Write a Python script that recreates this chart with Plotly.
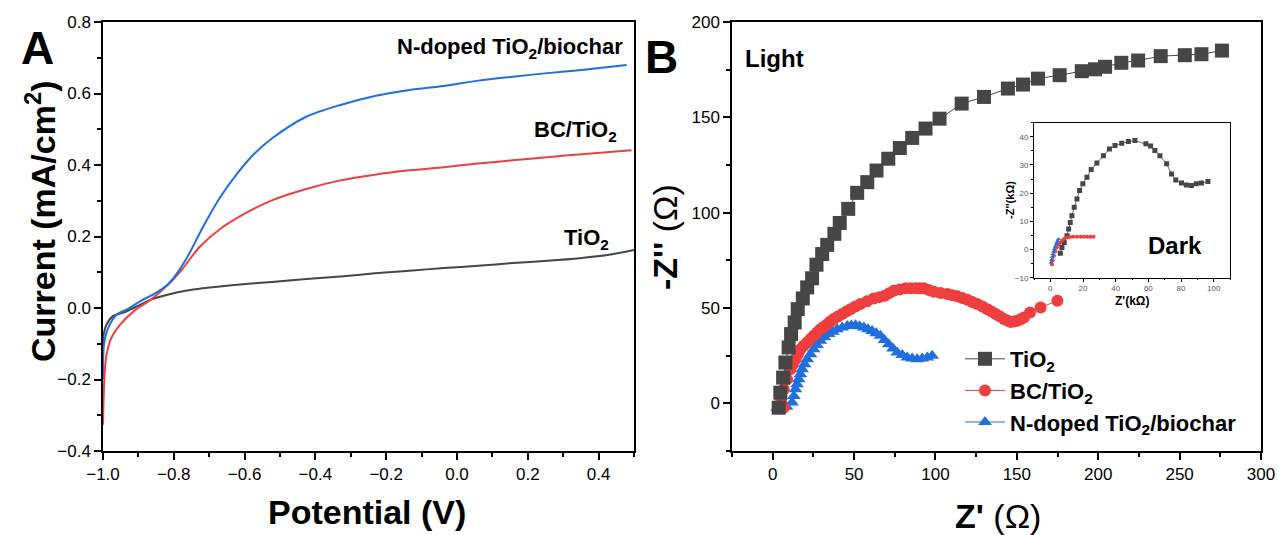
import plotly.graph_objects as go

# ---------------- Panel A : LSV curves ----------------
pot_tio2 = [-1.0, -0.998, -0.99, -0.971, -0.942, -0.903, -0.864, -0.815, -0.767, -0.718, -0.621, -0.523,
            -0.426, -0.329, -0.232, -0.134, -0.037, 0.060, 0.158, 0.255, 0.352, 0.43, 0.5]
cur_tio2 = [-0.12, -0.073, -0.046, -0.022, -0.013, 0.005, 0.024, 0.038, 0.048, 0.055, 0.065, 0.073,
            0.081, 0.088, 0.097, 0.104, 0.112, 0.118, 0.126, 0.132, 0.140, 0.149, 0.162]

pot_bc = [-1.0, -0.998, -0.995, -0.99, -0.976, -0.951, -0.912, -0.864, -0.815, -0.776, -0.728, -0.669,
          -0.601, -0.523, -0.426, -0.329, -0.232, -0.134, -0.037, 0.060, 0.158, 0.255, 0.352, 0.493]
cur_bc = [-0.327, -0.243, -0.177, -0.13, -0.083, -0.046, -0.008, 0.024, 0.066, 0.109, 0.170, 0.221,
          0.263, 0.301, 0.333, 0.357, 0.373, 0.385, 0.394, 0.404, 0.413, 0.422, 0.430, 0.441]

pot_nd = [-1.0, -0.997, -0.985, -0.961, -0.932, -0.893, -0.854, -0.815, -0.786, -0.757, -0.718, -0.669,
          -0.621, -0.572, -0.523, -0.426, -0.329, -0.232, -0.134, -0.037, 0.060, 0.158, 0.255, 0.352, 0.479]
cur_nd = [-0.2, -0.10, -0.055, -0.018, -0.004, 0.020, 0.040, 0.068, 0.104, 0.151, 0.226, 0.310,
          0.376, 0.432, 0.474, 0.535, 0.568, 0.593, 0.610, 0.621, 0.636, 0.647, 0.657, 0.666, 0.680]

# ---------------- Panel B : Nyquist (Light) ----------------
zr_tio2 = [3.7, 4.7, 6.4, 7.8, 9.8, 11.3, 13.5, 15.4, 18.5, 21.2, 24.2, 26.9, 30.4, 33.5, 37.9, 41.2,
           46.4, 51.9, 58.1, 63.8, 71.0, 78.1, 85.7, 93.9, 102.5, 116.1, 129.8, 144.5, 153.8, 163.0,
           176.3, 189.9, 198.0, 204.2, 214.2, 224.5, 238.4, 253.2, 263.4, 276.0]
zi_tio2 = [-2.3, 5.6, 13.5, 21.4, 29.3, 36.3, 42.4, 49.4, 55.0, 60.8, 65.6, 72.7, 78.3, 83.1, 88.9, 94.6,
           102.0, 110.4, 116.0, 122.1, 128.3, 133.9, 139.2, 144.1, 149.3, 157.2, 160.7, 165.1, 167.2, 170.3,
           172.1, 174.2, 175.2, 176.5, 178.6, 179.8, 182.1, 182.6, 183.1, 185.0]

zr_bc = [6.8, 5.2, 6.8, 8.8, 10.9, 12.4, 14.0, 15.5, 17.0, 19.0, 21.1, 23.2, 25.2, 27.3, 29.3, 31.4, 33.5,
         35.5, 37.5, 40.1, 42.7, 45.2, 47.8, 50.8, 53.9, 58.0, 62.1, 65.5, 68.9, 71.6, 74.4, 78.0, 81.6,
         84.7, 87.8, 90.3, 92.9, 96.0, 99.0, 103.1, 107.3, 110.3, 113.4, 116.5, 119.6, 122.6, 125.7,
         128.8, 131.9, 134.5, 137.0, 139.6, 142.1, 144.2, 146.2, 148.3, 150.3, 152.4, 154.4, 158.1,
         164.6, 174.9]
zi_bc = [-2.3, 2.1, 7.4, 12.6, 17.9, 20.5, 23.1, 25.8, 28.4, 30.2, 31.9, 33.7, 35.4, 37.2, 38.9, 40.2, 41.5,
         42.9, 44.2, 45.5, 46.8, 48.1, 49.4, 50.8, 52.1, 53.6, 55.0, 55.7, 56.4, 57.8, 59.1, 59.7, 60.3,
         60.3, 60.3, 60.3, 60.3, 59.4, 58.5, 57.9, 57.3, 56.7, 56.1, 55.2, 54.3, 53.2, 52.1,
         50.8, 49.4, 48.1, 46.8, 45.5, 44.2, 43.4, 42.7, 42.9, 43.3, 44.1, 45.0, 47.7,
         50.3, 53.8]

zr_nd = [2.7, 5.5, 8.5, 11.9, 13.0, 14.0, 15.0, 16.0, 17.0, 18.1, 19.6, 21.2, 23.2, 25.2, 27.2, 29.3,
         31.8, 34.4, 37.0, 39.6, 42.7, 45.8, 48.3, 50.9, 53.4, 56.0, 58.5, 61.1, 63.6, 66.2, 68.7,
         71.3, 73.9, 76.5, 79.6, 82.7, 85.7, 88.8, 91.9, 95.0, 98.0]
zi_nd = [-2.3, -2.6, -1.8, 0.4, 3.9, 7.4, 10.0, 12.6, 15.2, 17.9, 20.5, 23.1, 25.8, 28.4, 30.6, 32.8,
         34.6, 36.3, 37.6, 38.9, 39.8, 40.6, 40.8, 41.0, 40.4, 39.8, 38.9, 38.0, 36.7, 35.4, 33.2,
         31.0, 28.8, 26.7, 25.3, 24.0, 23.5, 23.1, 23.5, 24.0, 24.9]

# ---------------- Inset : Nyquist (Dark, kΩ) ----------------
zr_tio2_d = [6.1, 7.1, 8.5, 10.2, 11.2, 12.2, 13.2, 14.6, 16.3, 17.9, 19.9, 22.4, 25.0, 28.5, 32.5, 36.2,
             39.6, 43.7, 47.8, 51.8, 58.5, 61.4, 64.0, 67.1, 71.2, 74.2, 76.8, 80.3, 83.3, 86.4, 89.4,
             92.5, 96.5]
zi_tio2_d = [-1.3, 0.7, 2.5, 4.9, 7.3, 9.6, 12.0, 15.0, 17.9, 20.9, 23.3, 25.6, 28.4, 30.7, 33.3, 35.7,
             36.9, 37.7, 38.3, 38.7, 37.5, 36.7, 35.1, 33.3, 30.4, 26.8, 24.7, 23.6, 22.9, 22.7, 23.3,
             23.6, 24.1]

zr_bc_d = [1.0, 1.5, 2.2, 3.0, 4.0, 5.0, 6.1, 7.2, 8.5, 10.2, 12.0, 14.0, 16.3, 18.5, 20.5, 22.5, 24.5, 26.4]
zi_bc_d = [-5.2, -3.8, -2.2, -0.6, 0.8, 1.8, 2.5, 3.2, 3.8, 4.3, 4.4, 4.5, 4.5, 4.5, 4.5, 4.5, 4.5, 4.5]

zr_nd_d = [0.3, 0.7, 1.1, 1.5, 1.9, 2.4, 2.9, 3.4, 3.9, 4.4, 5.0]
zi_nd_d = [-4.6, -3.6, -2.6, -1.6, -0.7, 0.2, 1.0, 1.8, 2.5, 3.1, 3.7]

GRAY, RED, BLUE = "#464646", "#EF3E3E", "#1F6FDF"
FONT = "Arial, Liberation Sans, sans-serif"

fig = go.Figure()

# Panel A
for xs, ys, c in [(pot_tio2, cur_tio2, GRAY), (pot_bc, cur_bc, RED), (pot_nd, cur_nd, BLUE)]:
    fig.add_trace(go.Scatter(x=xs, y=ys, mode="lines", line=dict(color=c, width=2, shape="spline", smoothing=0.8),
                             showlegend=False, xaxis="x", yaxis="y"))

# Panel B
fig.add_trace(go.Scatter(x=zr_nd, y=zi_nd, mode="lines+markers", name="N-doped TiO<sub>2</sub>/biochar",
                         line=dict(color=BLUE, width=1),
                         marker=dict(symbol="triangle-up", size=12, color=BLUE),
                         xaxis="x2", yaxis="y2", legendrank=3))
fig.add_trace(go.Scatter(x=zr_bc, y=zi_bc, mode="lines+markers", name="BC/TiO<sub>2</sub>",
                         line=dict(color=RED, width=1),
                         marker=dict(symbol="circle", size=12, color=RED),
                         xaxis="x2", yaxis="y2", legendrank=2))
fig.add_trace(go.Scatter(x=zr_tio2, y=zi_tio2, mode="lines+markers", name="TiO<sub>2</sub>",
                         line=dict(color=GRAY, width=1),
                         marker=dict(symbol="square", size=14, color=GRAY),
                         xaxis="x2", yaxis="y2", legendrank=1))

# Inset
fig.add_trace(go.Scatter(x=zr_tio2_d, y=zi_tio2_d, mode="lines+markers", showlegend=False,
                         line=dict(color=GRAY, width=0.8),
                         marker=dict(symbol="square", size=5, color=GRAY),
                         xaxis="x3", yaxis="y3"))
fig.add_trace(go.Scatter(x=zr_bc_d, y=zi_bc_d, mode="lines+markers", showlegend=False,
                         line=dict(color=RED, width=0.8),
                         marker=dict(symbol="circle", size=4, color=RED),
                         xaxis="x3", yaxis="y3"))
fig.add_trace(go.Scatter(x=zr_nd_d, y=zi_nd_d, mode="lines+markers", showlegend=False,
                         line=dict(color=BLUE, width=0.8),
                         marker=dict(symbol="triangle-up", size=4, color=BLUE),
                         xaxis="x3", yaxis="y3"))

W, H = 1278, 535
ydom = [1 - 451 / H, 1 - 22 / H]

def ax(domain, rng, dtick, minor, fmt=None, anchor=None, size=17, ticklen=7, color="black", lw=1.5):
    d = dict(domain=domain, range=rng, dtick=dtick, tick0=0, showgrid=False, zeroline=False,
             showline=True, mirror=True, linecolor="black", linewidth=lw, automargin=False,
             ticks="outside", ticklen=ticklen, tickwidth=lw, tickcolor="black",
             minor=dict(dtick=minor, tick0=0, ticks="outside", ticklen=ticklen * 0.55,
                        tickwidth=lw, tickcolor="black", showgrid=False),
             tickfont=dict(family=FONT, size=size, color=color), anchor=anchor)
    if fmt:
        d["tickformat"] = fmt
    return d

fig.update_layout(
    width=W, height=H, margin=dict(l=0, r=0, t=0, b=0, autoexpand=False),
    paper_bgcolor="white", plot_bgcolor="white",
    xaxis=ax([103 / W, 634 / W], [-1.0, 0.5], 0.2, 0.1, ".1f", "y"),
    yaxis=ax(ydom, [-0.4, 0.8], 0.2, 0.1, ".1f", "x"),
    xaxis2=ax([732 / W, 1261 / W], [-25, 300], 50, 25, None, "y2"),
    yaxis2=ax(ydom, [-25, 200], 50, 25, None, "x2"),
    xaxis3=ax([1034 / W, 1230 / W], [-10, 110], 20, 10, None, "y3", size=8, ticklen=3,
              color="#555555", lw=1),
    yaxis3=ax([1 - 277.7 / H, 1 - 122.7 / H], [-10, 45], 10, 5, None, "x3", size=8, ticklen=3,
              color="#555555", lw=1),
    legend=dict(x=960 / W, y=1 - 338 / H, xanchor="left", yanchor="top",
                font=dict(family=FONT, size=22, color="black", weight="bold"),
                bgcolor="rgba(0,0,0,0)", tracegroupgap=0, itemwidth=40),
    showlegend=True,
)

def ann(text, x, y, size, angle=0, xanchor="center", weight="bold", color="black"):
    fig.add_annotation(text=text, x=x / W, y=1 - y / H, xref="paper", yref="paper",
                       showarrow=False, textangle=angle, xanchor=xanchor, yanchor="middle",
                       font=dict(family=FONT, size=size, color=color, weight=weight))

OMEGA = "<span style='font-weight:normal'>(Ω)</span>"
ann("A", 37, 48, 46)
ann("B", 661, 57, 46)
ann("Current (mA/cm<sup>2</sup>)", 40, 221, 34, angle=-90)
ann("Potential (V)", 367, 512, 34)
ann("-Z'' " + OMEGA, 665, 237, 34, angle=-90)
ann("Z' " + OMEGA, 998, 516, 34)
ann("N-doped TiO<sub>2</sub>/biochar", 625, 48, 22, xanchor="right")
ann("BC/TiO<sub>2</sub>", 619, 131, 22, xanchor="right")
ann("TiO<sub>2</sub>", 611, 239, 22, xanchor="right")
ann("Light", 743, 59, 24, xanchor="left")
ann("Dark", 1175, 246, 24)
ann("-Z''(kΩ)", 1010, 200, 11, angle=-90)
ann("Z'(kΩ)", 1132, 301, 12)

fig.write_html("out.html")
